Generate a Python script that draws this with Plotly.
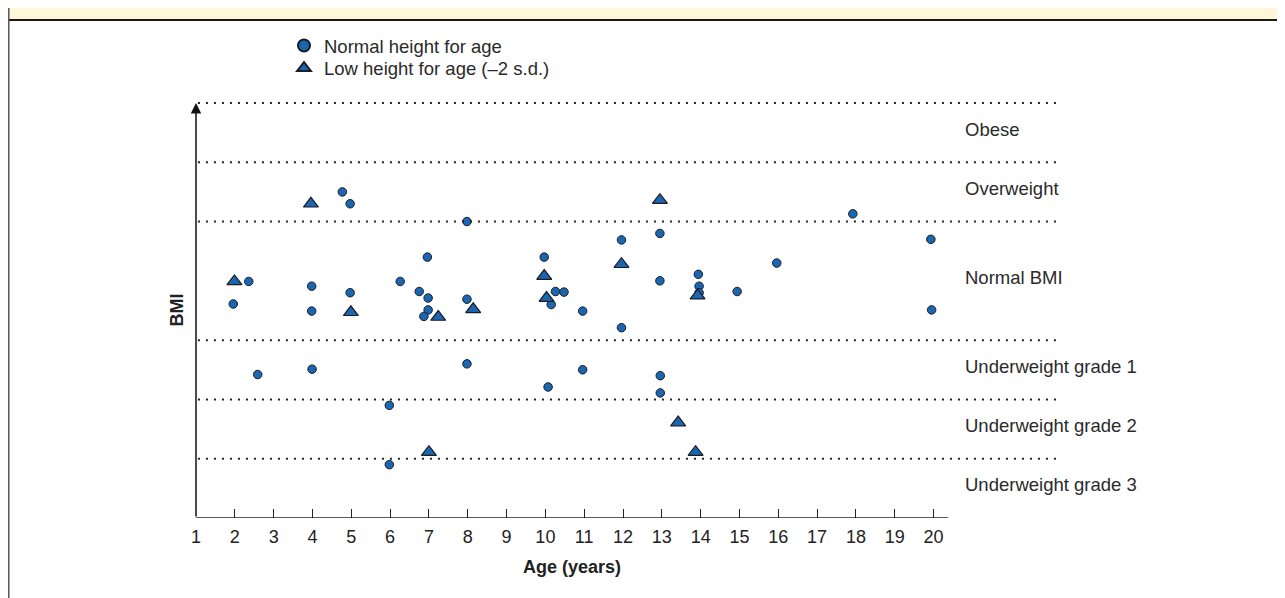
import plotly.graph_objects as go

# ---- data ----
# BMI category scale: each band is one unit, "Normal BMI" spans two units
band_edges = [1, 2, 3, 5, 6, 7]
band_names = ["Underweight grade 3", "Underweight grade 2", "Underweight grade 1",
              "Normal BMI", "Overweight", "Obese"]
band_lo = [0, 1, 2, 3, 5, 6]
band_hi = [1, 2, 3, 5, 6, 7]

age_ticks = list(range(1, 21))

normal_age = [1.96, 2.36, 3.98, 3.98, 4.77, 4.97, 4.97, 3.99, 2.59, 6.26,
              6.75, 6.96, 6.98, 6.98, 6.87, 7.98, 7.98, 7.98, 5.98, 5.98,
              9.97, 10.26, 10.15, 10.48, 10.96, 10.96, 10.07, 11.96, 11.96, 12.95,
              12.95, 12.96, 12.96, 13.94, 13.96, 13.96, 14.94, 15.96, 17.92, 19.93,
              19.95]
normal_bmi = [3.61, 3.99, 3.91, 3.49, 5.50, 5.30, 3.80, 2.51, 2.42, 3.99,
              3.82, 4.40, 3.71, 3.51, 3.40, 5.00, 3.69, 2.60, 1.90, 0.90,
              4.40, 3.82, 3.60, 3.81, 3.49, 2.50, 2.21, 4.69, 3.21, 4.80,
              4.00, 2.40, 2.11, 4.11, 3.91, 3.80, 3.82, 4.30, 5.13, 4.70,
              3.51]

low_age = [1.99, 3.96, 4.99, 7.24, 8.14, 7.00, 9.97, 10.03, 11.96, 12.95,
           13.42, 13.92, 13.87]
low_bmi = [3.99, 5.30, 3.47, 3.39, 3.52, 1.11, 4.08, 3.71, 4.28, 5.36,
           1.61, 3.75, 1.11]

# ---- styling / layout ----
FONT = "Liberation Sans, Arial, Helvetica, sans-serif"
BLUE = "#1a66b0"
EDGE = "#1c1c24"
INK = "#222222"

OFF = 8  # page offset of the figure (body margin)
W, H = 1277, 590
ML, MT, MB = 188, 65, 80
PW = 866
MR = W - ML - PW
PH = H - MT - MB


def px_x(page_x):
    return (page_x - OFF - ML) / PW


def px_y(page_y):
    return (H - MB - (page_y - OFF)) / PH


fig = go.Figure()

fig.add_trace(go.Scatter(
    x=normal_age, y=normal_bmi, mode="markers", name="Normal height for age",
    legend="legend",
    marker=dict(symbol="circle", size=8.5, color=BLUE, line=dict(color=EDGE, width=1)),
))
fig.add_trace(go.Scatter(
    x=low_age, y=low_bmi, mode="markers", name="Low height for age (\u20132 s.d.)",
    legend="legend2",
    marker=dict(symbol="triangle-up", size=13, color=BLUE, line=dict(color=EDGE, width=1.2)),
))

shapes = []
# dotted category boundaries
for yv in band_edges:
    shapes.append(dict(type="line", xref="x", yref="y", x0=1.05, x1=23.18, y0=yv, y1=yv,
                       line=dict(color=INK, width=2, dash="2px,6px")))
# x axis line
shapes.append(dict(type="line", xref="x", yref="y", x0=1, x1=20.37, y0=0, y1=0,
                   line=dict(color=INK, width=1.5)))
# banner at the top
shapes.append(dict(type="rect", xref="paper", yref="paper",
                   x0=px_x(8), x1=px_x(1290), y0=px_y(20), y1=px_y(5),
                   fillcolor="#fff8d8", line=dict(width=0), layer="below"))
shapes.append(dict(type="line", xref="paper", yref="paper",
                   x0=px_x(8), x1=px_x(1290), y0=px_y(20), y1=px_y(20),
                   line=dict(color="#1a1a1a", width=2)))
shapes.append(dict(type="line", xref="paper", yref="paper",
                   x0=px_x(8.8), x1=px_x(8.8), y0=px_y(602), y1=px_y(5),
                   line=dict(color="#555555", width=1.5)))

annotations = []
# y axis with arrow
annotations.append(dict(x=1, y=7, ax=1, ay=0, xref="x", yref="y", axref="x", ayref="y",
                        text="", showarrow=True, arrowhead=2, arrowsize=1.4,
                        arrowwidth=1.5, arrowcolor="#111111", standoff=0))
# band labels
for name, lo, hi in zip(band_names, band_lo, band_hi):
    annotations.append(dict(x=20.77, y=(lo + hi) / 2 + 0.06, xref="x", yref="y",
                            text=name, showarrow=False, xanchor="left", yanchor="middle",
                            font=dict(family=FONT, size=18.5, color="#2a2a2a")))
# axis titles
annotations.append(dict(x=10.68, y=px_y(567), xref="x", yref="paper", text="<b>Age (years)</b>",
                        showarrow=False, xanchor="center", yanchor="middle",
                        font=dict(family=FONT, size=18, color=INK)))
annotations.append(dict(x=px_x(177), y=3.5, xref="paper", yref="y", text="<b>BMI</b>",
                        showarrow=False, xanchor="center", yanchor="middle", textangle=-90,
                        font=dict(family=FONT, size=18, color=INK)))

legend_style = dict(xanchor="left", yanchor="top", bgcolor="rgba(0,0,0,0)",
                    itemsizing="constant",
                    font=dict(family=FONT, size=18.5, color="#2a2a2a"))

fig.update_layout(
    width=W, height=H,
    margin=dict(l=ML, r=MR, t=MT, b=MB),
    paper_bgcolor="white", plot_bgcolor="white",
    font=dict(family=FONT, size=18, color=INK),
    xaxis=dict(range=[1, 1 + PW / 38.82], tickvals=age_ticks, ticktext=[str(v) for v in age_ticks],
               ticks="inside", ticklen=9, tickwidth=1.2, tickcolor=INK,
               showline=False, showgrid=False, zeroline=False,
               tickfont=dict(family=FONT, size=18, color=INK), ticklabelstandoff=6),
    yaxis=dict(range=[0, PH / 59.29], showticklabels=False, ticks="", showline=False,
               showgrid=False, zeroline=False),
    showlegend=True,
    legend=dict(x=px_x(284), y=px_y(27), **legend_style),
    legend2=dict(x=px_x(284), y=px_y(49.5), **legend_style),
    shapes=shapes, annotations=annotations,
)

fig.write_html("out.html")
